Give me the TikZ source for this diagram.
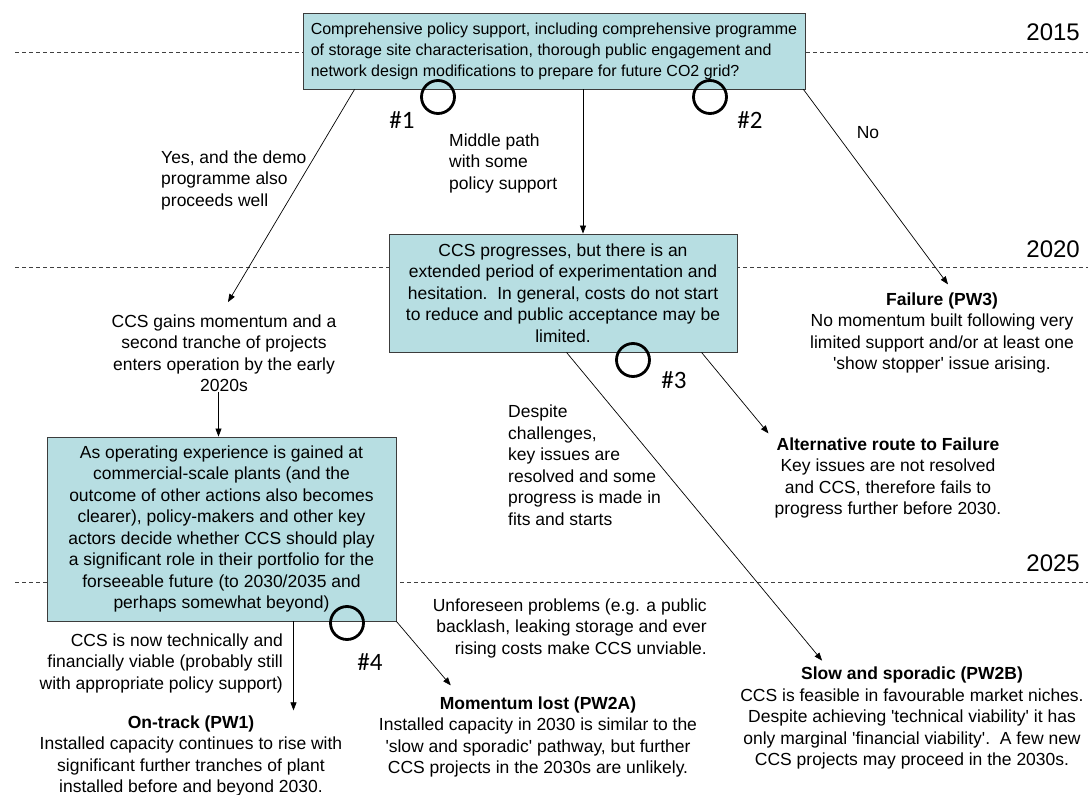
\documentclass[tikz,border=0pt]{standalone}
\usepackage{fontspec}
\setmainfont{Liberation Sans}
\newfontfamily\hashfont{Carlito}
\usetikzlibrary{arrows.meta, positioning}
\definecolor{boxfill}{RGB}{183,222,226}
\definecolor{boxline}{RGB}{60,60,60}
\newcommand{\sq}{\textquotesingle}

\tikzset{
  box/.style={draw=boxline, fill=boxfill, line width=0.9pt, align=center, inner sep=0pt, font=\fontsize{17.5}{21.5}\selectfont},
  txtblock/.style={align=center, inner sep=0pt, font=\fontsize{17.5}{21.5}\selectfont},
  arr/.style={-{Triangle[length=8pt,width=6pt]}, line width=0.7pt},
  yearline/.style={dash pattern=on 4pt off 3pt, line width=0.7pt, black!75},
  year/.style={anchor=base east, inner sep=0pt, font=\fontsize{24}{24}\selectfont},
  ring/.style={circle, draw, line width=2.8pt, minimum size=33pt, inner sep=0pt},
  hash/.style={inner sep=0pt, font=\hashfont\fontsize{25}{25}\selectfont}
}

\begin{document}
\begin{tikzpicture}[x=1pt, y=-1pt]
    \useasboundingbox (0,0) rectangle (1088,795);

    % Time lines
    \draw[yearline] (15,52) -- (1088,52);
    \draw[yearline] (15,267) -- (1088,267);
    \draw[yearline] (15,582) -- (1088,582);
    \node[year] (y2015) at (1080,40) {2015};
    \node[year] (y2020) at (1080,257) {2020};
    \node[year] (y2025) at (1080,571) {2025};

    % Decision boxes
    \node[box, align=left, minimum width=502pt, minimum height=76pt, font=\fontsize{16}{21}\selectfont] (policy) at (554,51)
        {Comprehensive policy support, including comprehensive programme\\
         of storage site characterisation, thorough public engagement and\\
         network design modifications to prepare for future CO2 grid?};
    \node[box, minimum width=348pt, minimum height=118pt] (hesitate) at (563,293)
        {CCS progresses, but there is an\\
         extended period of experimentation and\\
         hesitation.\ \ In general, costs do not start\\
         to reduce and public acceptance may be\\
         limited.};
    \node[box, minimum width=349pt, minimum height=184pt] (decide) at (221.5,529)
        {As operating experience is gained at\\
         commercial-scale plants (and the\\
         outcome of other actions also becomes\\
         clearer), policy-makers and other key\\
         actors decide whether CCS should play\\
         a significant role in their portfolio for the\\
         forseeable future (to 2030/2035 and\\
         perhaps somewhat beyond)};

    % Intermediate state
    \node[txtblock] (gain) at (224,353)
        {CCS gains momentum and a\\
         second tranche of projects\\
         enters operation by the early\\
         2020s};

    % Outcomes
    \node[txtblock] (fail) at (942,333)
        {\textbf{Failure (PW3)}\\
         No momentum built following very\\
         limited support and/or at least one\\
         \sq show stopper\sq\ issue arising.};
    \node[txtblock] (altfail) at (888,478)
        {\textbf{Alternative route to Failure}\\
         Key issues are not resolved\\
         and CCS, therefore fails to\\
         progress further before 2030.};
    \node[txtblock] (ontrack) at (191,756)
        {\textbf{On-track (PW1)}\\
         Installed capacity continues to rise with\\
         significant further tranches of plant\\
         installed before and beyond 2030.};
    \node[txtblock] (lost) at (538,737)
        {\textbf{Momentum lost (PW2A)}\\
         Installed capacity in 2030 is similar to the\\
         \sq slow and sporadic\sq\ pathway, but further\\
         CCS projects in the 2030s are unlikely.};
    \node[txtblock] (slow) at (912,718)
        {\textbf{Slow and sporadic (PW2B)}\\
         CCS is feasible in favourable market niches.\\
         Despite achieving \sq technical viability\sq\ it has\\
         only marginal \sq financial viability\sq.\ \ A few new\\
         CCS projects may proceed in the 2030s.};

    % Path labels
    \node[txtblock, align=left, anchor=west] (yes) at (161,180)
        {Yes, and the demo\\ programme also\\ proceeds well};
    \node[txtblock, align=left, anchor=west] (middle) at (449,163)
        {Middle path\\ with some\\ policy support};
    \node[txtblock] (no) at (868,133) {No};
    \node[txtblock, align=left, anchor=west] (despite) at (508,465)
        {Despite\\ challenges,\\ key issues are\\ resolved and some\\ progress is made in\\ fits and starts};
    \node[txtblock, align=right, anchor=east] (unforeseen) at (707,628)
        {Unforeseen problems (e.g. a public\\ backlash, leaking storage and ever\\ rising costs make CCS unviable.};
    \node[txtblock, align=right, anchor=east] (viable) at (283,663)
        {CCS is now technically and\\ financially viable (probably still\\ with appropriate policy support)};

    % Decision points
    \node[ring] (c1) at (438,97) {};
    \node[ring] (c2) at (710,97) {};
    \node[ring] (c3) at (633,360) {};
    \node[ring] (c4) at (347,623) {};
    \node[hash] (h1) at (402,120) {\#1};
    \node[hash] (h2) at (750,120) {\#2};
    \node[hash] (h3) at (674,380) {\#3};
    \node[hash] (h4) at (370,662) {\#4};

    % Connectors
    \draw[arr] ([xshift=52pt]policy.south west) -- ([xshift=4pt,yshift=12pt]gain.north);
    \draw[arr] ([xshift=20pt]hesitate.north |- policy.south) -- ([xshift=20pt]hesitate.north);
    \draw[arr] ([xshift=-2pt]policy.south east) -- ([xshift=6pt,yshift=8pt]fail.north);
    \draw[arr] ([xshift=178pt]hesitate.south west) -- ([xshift=82pt,yshift=6pt]slow.north west);
    \draw[arr] ([xshift=313pt]hesitate.south west) -- ([xshift=-6pt,yshift=4pt]altfail.north west);
    \draw[arr] ([xshift=-3pt]decide.north |- gain.south) -- ([xshift=-3pt]decide.north);
    \draw[arr] ([xshift=72pt]decide.south) -- ([xshift=72pt,yshift=5pt]decide.south |- ontrack.north);
    \draw[arr] (decide.south east) -- ([xshift=72pt,yshift=11pt]lost.north west);
\end{tikzpicture}
\end{document}
